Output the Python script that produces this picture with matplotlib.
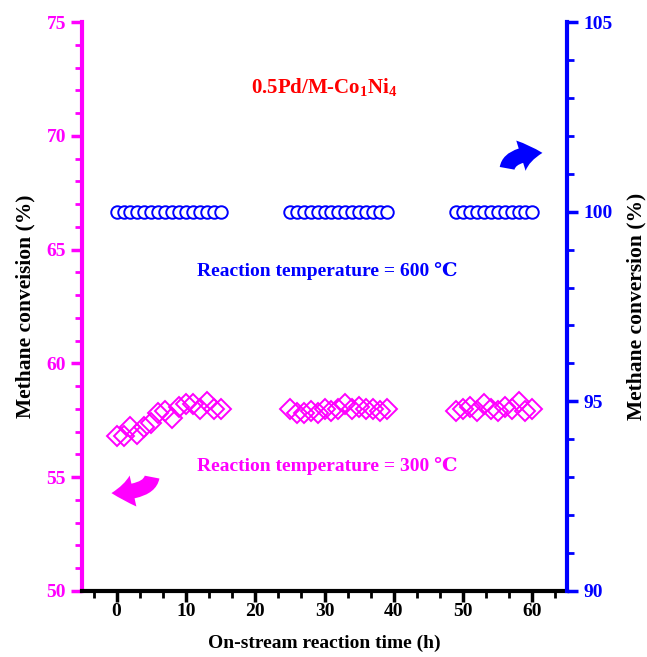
import matplotlib
matplotlib.use("Agg")
import matplotlib.pyplot as plt
from matplotlib.patches import FancyArrowPatch
from matplotlib.ticker import MultipleLocator

plt.rcParams["font.family"] = ["Liberation Serif", "DejaVu Serif"]
plt.rcParams["font.weight"] = "bold"
plt.rcParams["mathtext.fontset"] = "custom"
plt.rcParams["mathtext.rm"] = "Liberation Serif:bold"
plt.rcParams["mathtext.it"] = "Liberation Serif:bold"
plt.rcParams["mathtext.bf"] = "Liberation Serif:bold"

MAGENTA = "#ff00ff"
BLUE = "#0000ff"

# time on stream (h)
t1 = list(range(0, 16))
t2 = list(range(25, 40))
t3 = list(range(49, 61))
time_h = t1 + t2 + t3

# conversion at 600 C (right axis)
conv_600 = [100.0] * len(time_h)

# conversion at 300 C (left axis)
conv_300_a = [56.8, 56.8, 57.2, 56.9, 57.2, 57.4, 57.8, 57.9, 57.6, 58.1,
              58.2, 58.2, 58.0, 58.3, 58.0, 58.0]
conv_300_b = [58.0, 57.8, 57.8, 57.9, 57.8, 58.0, 57.9, 58.0, 58.2, 58.0,
              58.1, 58.0, 58.0, 57.9, 58.0]
conv_300_c = [57.9, 58.0, 58.1, 57.9, 58.2, 58.0, 57.9, 58.1, 58.0, 58.3,
              57.9, 58.0]
conv_300 = conv_300_a + conv_300_b + conv_300_c

fig = plt.figure(figsize=(6.47, 6.57), dpi=100)
ax = fig.add_axes([0.1267, 0.1005, 0.7497, 0.866])
ax2 = ax.twinx()

ax.plot(time_h, conv_300, ls="none", marker="D", ms=10.5, mfc="none",
        mec=MAGENTA, mew=1.4)
ax2.plot(time_h, conv_600, ls="none", marker="o", ms=9, mfc="white",
         mec=BLUE, mew=1.4)

ax.set_xlim(-5, 65)
ax.set_ylim(50, 75)
ax2.set_ylim(90, 105)

ax.xaxis.set_major_locator(MultipleLocator(10))
ax.xaxis.set_minor_locator(MultipleLocator(10 / 3))
ax.yaxis.set_major_locator(MultipleLocator(5))
ax.yaxis.set_minor_locator(MultipleLocator(1))
ax2.yaxis.set_major_locator(MultipleLocator(5))
ax2.yaxis.set_minor_locator(MultipleLocator(1))

for a in (ax, ax2):
    a.spines["top"].set_visible(False)
ax.spines["left"].set_color(MAGENTA)
ax.spines["left"].set_linewidth(3)
ax.spines["bottom"].set_linewidth(3)
ax2.spines["right"].set_color(BLUE)
ax2.spines["right"].set_linewidth(3)
ax2.spines["left"].set_visible(False)
ax2.spines["bottom"].set_visible(False)
ax.spines["right"].set_visible(False)

ax.tick_params(axis="x", which="major", direction="out", length=8, width=2.5,
               labelsize=14, pad=1)
ax.tick_params(axis="x", which="minor", direction="out", length=5, width=2)
ax.tick_params(axis="y", which="major", direction="out", length=8, width=2.5,
               colors=MAGENTA, labelsize=14)
ax.tick_params(axis="y", which="minor", direction="out", length=5, width=2,
               colors=MAGENTA)
ax2.tick_params(axis="y", which="major", direction="out", length=8, width=2.5,
                colors=BLUE, labelsize=14)
ax2.tick_params(axis="y", which="minor", direction="out", length=5, width=2,
                colors=BLUE)
for lab in ax.get_xticklabels() + ax.get_yticklabels() + ax2.get_yticklabels():
    lab.set_fontweight("bold")

ax.set_xlabel("On-stream reaction time (h)", fontsize=14, fontweight="bold",
              labelpad=10)
ax.set_ylabel("Methane conveision (%)", fontsize=15.5, fontweight="bold",
              labelpad=8)
ax2.set_ylabel("Methane conversion (%)", fontsize=15.5, fontweight="bold",
               labelpad=10)

ax.text(0.5, 0.885, r"0.5Pd/M-Co$_1$Ni$_4$", transform=ax.transAxes,
        ha="center", va="center", color="red", fontsize=15, fontweight="bold")
ax.text(0.505, 0.562, "Reaction temperature = 600 \u2103", transform=ax.transAxes,
        ha="center", va="center", color=BLUE, fontsize=14, fontweight="bold")
ax.text(0.505, 0.22, "Reaction temperature = 300 \u2103", transform=ax.transAxes,
        ha="center", va="center", color=MAGENTA, fontsize=14, fontweight="bold")

# direction arrows
arrow_style = "simple,head_width=1.9,head_length=1.3,tail_width=0.9"
arr_r = FancyArrowPatch((0.876, 0.738), (0.955, 0.77), transform=ax.transAxes,
                        connectionstyle="angle3,angleA=90,angleB=0",
                        arrowstyle=arrow_style,
                        mutation_scale=12, color=BLUE, lw=0)
ax.add_patch(arr_r)
arr_l = FancyArrowPatch((0.145, 0.205), (0.055, 0.172), transform=ax.transAxes,
                        connectionstyle="angle3,angleA=90,angleB=0",
                        arrowstyle=arrow_style,
                        mutation_scale=12, color=MAGENTA, lw=0)
ax.add_patch(arr_l)

fig.savefig("out.png", dpi=100)
